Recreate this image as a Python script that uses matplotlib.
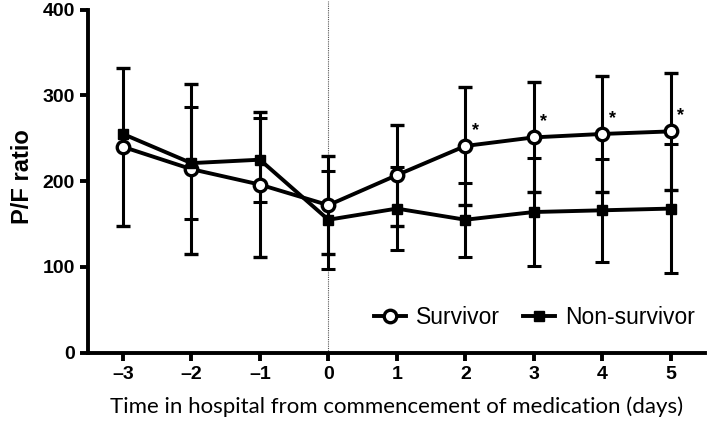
import numpy as np
import matplotlib
matplotlib.use("Agg")
import matplotlib.pyplot as plt
from matplotlib.lines import Line2D

# P/F ratio by day relative to start of medication
days = [-3, -2, -1, 0, 1, 2, 3, 4, 5]
day_labels = ["\u20133", "\u20132", "\u20131", "0", "1", "2", "3", "4", "5"]

survivor_mean = [240, 214, 196, 172, 207, 241, 251, 255, 258]
survivor_sd = [92, 99, 85, 57, 59, 69, 64, 68, 68]

nonsurv_mean = [255, 221, 225, 155, 168, 155, 164, 166, 168]
nonsurv_sd = [np.nan, 65, 49, 57, 48, 43, 63, 60, 75]

# days with significant difference (marked with *)
sig_days = [2, 3, 4, 5]

fig = plt.figure(figsize=(7.09, 4.28), dpi=100)
ax = fig.add_axes([88 / 709, 1 - 352.7 / 428, 617 / 709, 351.7 / 428])

ax.axvline(0, color="#555555", linestyle=(0, (1, 1)), linewidth=0.8, zorder=1)

surv_style = dict(color="black", linewidth=2.8, marker="o", markersize=9,
                  markerfacecolor="white", markeredgewidth=2.4)
non_style = dict(color="black", linewidth=2.8, marker="s", markersize=7,
                 markerfacecolor="black")

ax.errorbar(days, survivor_mean, yerr=survivor_sd, elinewidth=2.2, capsize=5,
            capthick=2.2, zorder=3, **surv_style)
ax.errorbar(days, nonsurv_mean, yerr=nonsurv_sd, elinewidth=2.2, capsize=5,
            capthick=2.2, zorder=3, **non_style)

for d in sig_days:
    i = days.index(d)
    ax.annotate("*", (d, survivor_mean[i]), xytext=(7, 5), textcoords="offset points",
                fontsize=13, fontfamily="Liberation Sans", fontweight="bold",
                ha="center", va="bottom")

ax.set_xlim(-3.51, 5.5)
ax.set_ylim(0, 410)
ax.spines["left"].set_bounds(0, 400)
ax.spines["top"].set_visible(False)
ax.spines["right"].set_visible(False)
for s in ["left", "bottom"]:
    ax.spines[s].set_linewidth(2.8)

ax.set_yticks([0, 100, 200, 300, 400])
ax.set_xticks(days)
ax.set_xticklabels(day_labels)
ax.tick_params(width=2.8, length=6, labelsize=14)
for lab in ax.get_xticklabels() + ax.get_yticklabels():
    lab.set_fontfamily("Liberation Sans")
    lab.set_fontweight("bold")

ax.set_ylabel("P/F ratio", fontsize=17, fontfamily="Liberation Sans",
              fontweight="bold", labelpad=6)
ax.set_xlabel("Time in hospital from commencement of medication (days)",
              fontsize=16, fontfamily="Lato", labelpad=10)

handles = [Line2D([], [], **surv_style), Line2D([], [], **non_style)]
ax.legend(handles, ["Survivor", "Non-survivor"], loc="center",
          bbox_to_anchor=(0.724, 0.101), ncol=2, frameon=False,
          prop={"family": "Liberation Sans", "size": 16.5}, handlelength=1.4,
          handletextpad=0.45, columnspacing=1.0)

fig.savefig("out.png", dpi=100)
